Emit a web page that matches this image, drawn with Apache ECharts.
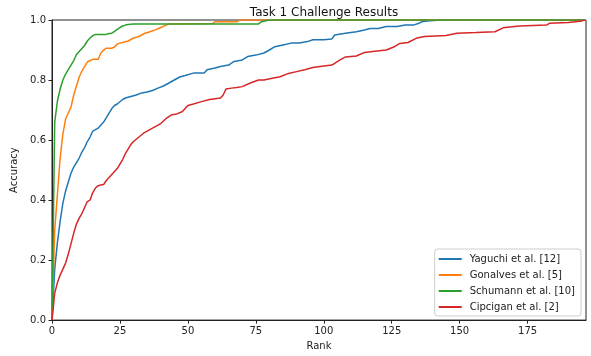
<!DOCTYPE html>
<html>
<head>
<meta charset="utf-8">
<script src="https://cdn.jsdelivr.net/npm/echarts@6/dist/echarts.min.js"></script>
<style>html,body{margin:0;padding:0;background:#fff;}#chart{width:591px;height:356px;}</style>
</head>
<body>
<div id="chart"></div>
<script>
var seriesNames = ['Yaguchi et al. [12]', 'Gonalves et al. [5]', 'Schumann et al. [10]', 'Cipcigan et al. [2]'];
var xTicks = [0, 25, 50, 75, 100, 125, 150, 175];
var yTicks = [0, 0.2, 0.4, 0.6, 0.8, 1.0];

var yaguchiRank = [0,1,2,3,4,5,6,7,8,9,10,11,12,13,14,15,16,17,18,19,20,21,22,23,24,26,27,29,31,33,35,37,39,41,43,45,47,49,52,56,57,60,62,65,67,70,72,75,78,80,82,85,88,91,94,96,100,103,104,108,112,115,117,120,123,127,130,133,135,136,138,143,196];
var yaguchiAcc = [0,0.17,0.26,0.33,0.39,0.43,0.46,0.49,0.51,0.525,0.54,0.56,0.575,0.595,0.61,0.63,0.635,0.64,0.65,0.66,0.675,0.69,0.705,0.715,0.72,0.735,0.74,0.745,0.75,0.757,0.76,0.765,0.773,0.78,0.79,0.80,0.81,0.815,0.823,0.823,0.834,0.84,0.845,0.85,0.862,0.867,0.878,0.883,0.89,0.9,0.911,0.917,0.923,0.923,0.928,0.934,0.934,0.937,0.95,0.956,0.961,0.967,0.972,0.972,0.978,0.978,0.983,0.983,0.989,0.994,0.997,1.0,1.0];

var gonalvesRank = [0,1,2,3,4,5,6,7,8,9,10,11,12,13,14,15,16,17,18,19,20,22,23,24,25,26,28,30,32,34,36,38,40,42,43,59,60,68,69,196];
var gonalvesAcc = [0,0.3,0.42,0.54,0.62,0.67,0.69,0.71,0.75,0.78,0.81,0.83,0.845,0.86,0.865,0.869,0.869,0.869,0.89,0.9,0.906,0.906,0.91,0.92,0.923,0.925,0.93,0.94,0.945,0.955,0.961,0.967,0.975,0.983,0.987,0.988,0.994,0.994,1.0,1.0];

var schumannRank = [0,1,2,3,4,5,6,7,8,9,10,11,12,13,14,15,16,17,18,19,20,21,22,23,24,25,26,27,28,30,32,76,77,80,196];
var schumannAcc = [0,0.66,0.73,0.77,0.8,0.82,0.835,0.85,0.865,0.885,0.895,0.905,0.915,0.93,0.94,0.948,0.952,0.952,0.952,0.952,0.952,0.955,0.956,0.962,0.969,0.975,0.98,0.983,0.985,0.987,0.987,0.987,0.994,1.0,1.0];

var cipciganRank = [0,1,2,3,4,5,6,7,8,9,10,11,12,13,14,15,16,17,18,19,20,21,22,23,24,25,26,27,28,29,30,32,34,36,38,40,42,44,46,48,50,52,55,58,62,63,64,66,68,70,73,76,78,81,84,87,90,93,96,100,103,106,108,112,115,118,123,126,128,131,134,137,145,149,156,163,166,172,182,183,190,195,196];
var cipciganAcc = [0,0.09,0.125,0.15,0.17,0.19,0.22,0.255,0.29,0.32,0.34,0.355,0.375,0.395,0.4,0.425,0.44,0.448,0.45,0.452,0.465,0.475,0.485,0.495,0.505,0.52,0.535,0.555,0.57,0.585,0.595,0.61,0.625,0.635,0.645,0.655,0.672,0.684,0.687,0.695,0.715,0.72,0.728,0.735,0.74,0.75,0.77,0.773,0.775,0.778,0.79,0.8,0.8,0.806,0.811,0.822,0.828,0.834,0.842,0.847,0.85,0.867,0.877,0.88,0.892,0.895,0.9,0.911,0.922,0.925,0.939,0.945,0.948,0.956,0.958,0.961,0.974,0.98,0.983,0.989,0.992,0.997,1.0];

var colors = ['#1f77b4', '#ff7f0e', '#2ca02c', '#d62728'];

function zip(r, a) { return r.map(function (v, i) { return [v, a[i]]; }); }
var allData = [zip(yaguchiRank, yaguchiAcc), zip(gonalvesRank, gonalvesAcc), zip(schumannRank, schumannAcc), zip(cipciganRank, cipciganAcc)];

var chart = echarts.init(document.getElementById('chart'), null, { renderer: 'canvas' });
var font = 'DejaVu Sans';
chart.setOption({
  animation: false,
  backgroundColor: '#fff',
  color: colors,
  textStyle: { fontFamily: font },
  title: {
    text: 'Task 1 Challenge Results',
    left: 319, top: 2, textAlign: 'center',
    textStyle: { fontFamily: font, fontSize: 12, fontWeight: 'normal', color: '#111' }
  },
  grid: { left: 52, right: 5, top: 20, bottom: 35, show: true, borderColor: '#222', borderWidth: 1, backgroundColor: 'transparent' },
  legend: {
    orient: 'vertical', right: 10, bottom: 40,
    data: seriesNames,
    icon: 'rect', itemWidth: 23, itemHeight: 2, itemGap: 6,
    padding: [5, 6, 4, 4],
    borderColor: '#ccc', borderWidth: 1, borderRadius: 3, backgroundColor: '#fff',
    textStyle: { fontFamily: font, fontSize: 10, color: '#222', padding: [0, 0, 0, 3] }
  },
  xAxis: {
    type: 'value', min: 0, max: 196.5,
    name: 'Rank', nameLocation: 'middle', nameGap: 20,
    nameTextStyle: { fontFamily: font, fontSize: 10, color: '#222' },
    axisLine: { show: true, lineStyle: { color: '#222', width: 1 } },
    axisTick: { show: true, inside: false, length: 3.5, customValues: xTicks, lineStyle: { color: '#222' } },
    axisLabel: { customValues: xTicks, fontFamily: font, fontSize: 10, color: '#222', margin: 6 },
    splitLine: { show: false }
  },
  yAxis: {
    type: 'value', min: 0, max: 1, interval: 0.2,
    name: 'Accuracy', nameLocation: 'middle', nameGap: 28, nameRotate: 90,
    nameTextStyle: { fontFamily: font, fontSize: 10, color: '#222' },
    axisLine: { show: true, lineStyle: { color: '#222', width: 1 } },
    axisTick: { show: true, inside: false, length: 3.5, customValues: yTicks, lineStyle: { color: '#222' } },
    axisLabel: { customValues: yTicks, fontFamily: font, fontSize: 10, color: '#222', margin: 6,
      formatter: function (v) { return v.toFixed(1); } },
    splitLine: { show: false }
  },
  series: seriesNames.map(function (n, i) {
    return {
      name: n, type: 'line', data: allData[i],
      symbol: 'none', showSymbol: false, clip: true,
      lineStyle: { width: 1.5, color: colors[i] },
      itemStyle: { color: colors[i] },
      z: 2 + i
    };
  })
});
</script>
</body>
</html>
